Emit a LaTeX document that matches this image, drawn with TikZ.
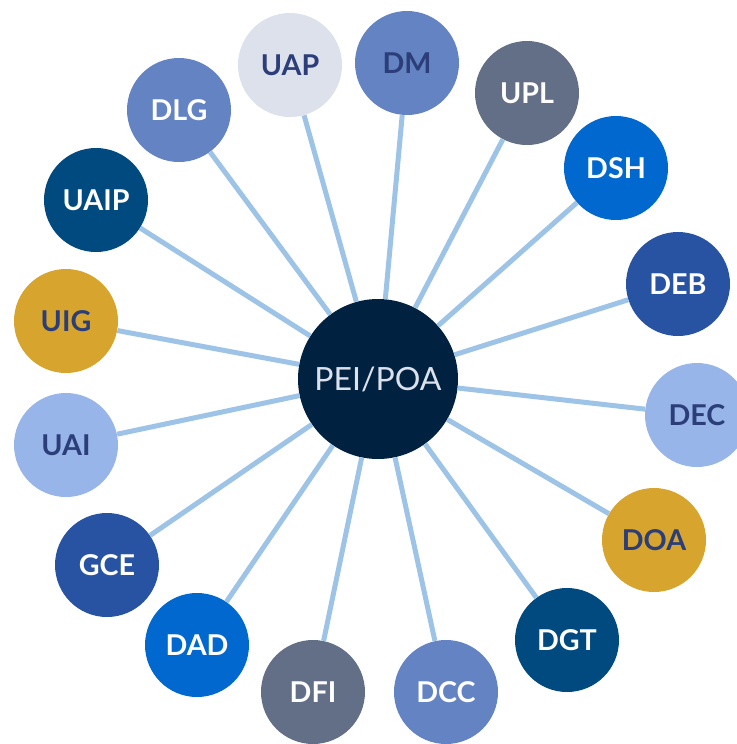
\documentclass[tikz,border=0pt]{standalone}
\usepackage{fontspec}
\setmainfont{Lato}
\definecolor{navytext}{HTML}{2C3E7A}
\definecolor{hubfill}{HTML}{002140}
\definecolor{hubtext}{HTML}{DDE1EC}
\definecolor{spoke}{HTML}{9DC3E6}
\definecolor{paleblue}{HTML}{DDE1EC}
\definecolor{midblue}{HTML}{6383C3}
\definecolor{slate}{HTML}{636E87}
\definecolor{brightblue}{HTML}{0068CF}
\definecolor{royal}{HTML}{2853A3}
\definecolor{skyblue}{HTML}{97B5E8}
\definecolor{gold}{HTML}{D7A52D}
\definecolor{deepblue}{HTML}{004A80}

\begin{document}
\begin{tikzpicture}[x=0.75pt,y=-0.75pt,
  unit/.style={circle,minimum size=78pt,inner sep=0pt,font=\fontsize{21.5}{21.5}\selectfont\bfseries},
  dark/.style={unit,text=navytext},
  light/.style={unit,text=white},
  hub/.style={circle,minimum size=120pt,inner sep=0pt,fill=hubfill,text=hubtext,font=\fontsize{24}{24}\selectfont},
  link/.style={draw=spoke,line width=3.75pt}]
  \useasboundingbox (0,0) rectangle (737,744);
  %centre
  \node[hub] (pei) at (378,379) {PEI/POA};
  %top
  \node[dark,fill=paleblue] (uap) at (290,65) {UAP};
  \node[dark,fill=midblue] (dm) at (407,63) {DM};
  \node[light,fill=slate] (upl) at (527,93) {UPL};
  %right
  \node[light,fill=brightblue] (dsh) at (616,168) {DSH};
  \node[light,fill=royal] (deb) at (678,284) {DEB};
  \node[dark,fill=skyblue] (dec) at (697,415) {DEC};
  \node[dark,fill=gold] (doa) at (654,540) {DOA};
  \node[light,fill=deepblue] (dgt) at (567,640) {DGT};
  %bottom
  \node[light,fill=midblue] (dcc) at (446,692) {DCC};
  \node[light,fill=slate] (dfi) at (313,692) {DFI};
  \node[light,fill=brightblue] (dad) at (197,645) {DAD};
  %left
  \node[light,fill=royal] (gce) at (107,565) {GCE};
  \node[dark,fill=skyblue] (uai) at (66,445) {UAI};
  \node[dark,fill=gold] (uig) at (66,321) {UIG};
  \node[light,fill=deepblue] (uaip) at (96,200) {UAIP};
  \node[light,fill=midblue] (dlg) at (179,110) {DLG};
  %spokes
  \foreach \u in {uap,dm,upl,dsh,deb,dec,doa,dgt,dcc,dfi,dad,gce,uai,uig,uaip,dlg}
    \draw[link] (pei) -- (\u);
\end{tikzpicture}
\end{document}
